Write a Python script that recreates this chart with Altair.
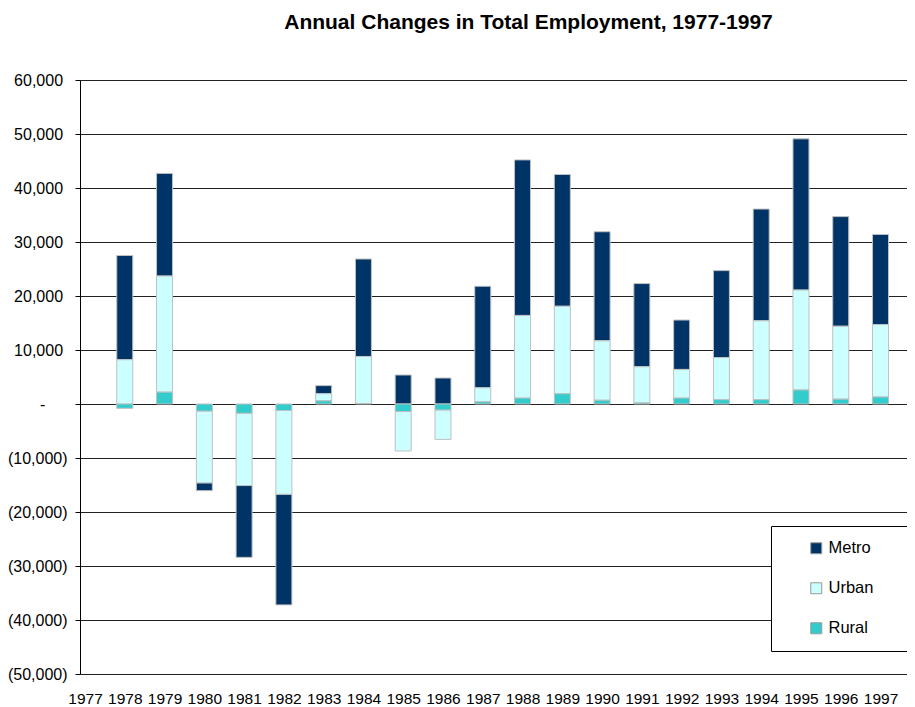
import altair as alt
import pandas as pd

years = list(range(1978, 1998))
metro = [19300, 19000, -1450, -13300, -20500, 1500, 18050, 5370, 4810, 18800,
         28800, 24400, 20200, 15400, 9150, 16100, 20700, 28000, 20300, 16700]
urban = [8200, 21500, -13300, -13400, -15500, 1300, 8700, -7300, -5450, 2600,
         15300, 16200, 11000, 6700, 5300, 7800, 14600, 18500, 13500, 13400]
rural = [-800, 2200, -1300, -1700, -1200, 600, 100, -1400, -1100, 400,
         1100, 1900, 700, 200, 1100, 800, 800, 2600, 900, 1300]
axis_years = list(range(1977, 1998))
series = ["Metro", "Urban", "Rural"]
colors = ["#003366", "#CCFFFF", "#33CCCC"]
stack_order = {"Rural": 0, "Urban": 1, "Metro": 2}
y_ticks = list(range(-50000, 60001, 10000))

rows = []
for name, vals in (("Metro", metro), ("Urban", urban), ("Rural", rural)):
    for yr, v in zip(years, vals):
        rows.append({"year": yr, "series": name, "value": v, "ord": stack_order[name]})
df = pd.DataFrame(rows)

NB = "\u00a0"
ZW = "\u200b"
ylabel = ("datum.value > 0 ? format(datum.value, ',') + '" + NB + ZW + "' : "
          "datum.value < 0 ? '(' + format(-datum.value, ',') + ')' : '-" + NB * 5 + ZW + "'")

FONT = "Liberation Sans"

chart = alt.Chart(df).mark_bar(size=16, stroke="#c0c0c0", strokeWidth=1).encode(
    x=alt.X("year:Q",
            scale=alt.Scale(domain=[1977, 1997.54], nice=False, zero=False),
            axis=alt.Axis(values=axis_years, format="d", title=None, domain=False,
                          ticks=False, grid=False, labelFontSize=15.5, labelFont=FONT,
                          labelColor="#000", labelPadding=17, labelFlush=False,
                          labelOverlap=False)),
    y=alt.Y("value:Q", stack="zero",
            scale=alt.Scale(domain=[-50000, 60000], nice=False),
            axis=alt.Axis(values=y_ticks, title=None, labelExpr=ylabel,
                          labelFontSize=16, labelFont=FONT, labelColor="#000",
                          tickSize=5, tickColor="#000", domainColor="#000",
                          gridColor="#222", gridWidth=1, labelPadding=8)),
    color=alt.Color("series:N",
                    scale=alt.Scale(domain=series, range=colors),
                    legend=alt.Legend(title=None, orient="none", legendX=691, legendY=446,
                                      padding=14, symbolOffset=23, symbolType="square",
                                      symbolSize=121, symbolStrokeColor="#999",
                                      symbolStrokeWidth=1, labelFontSize=16.5,
                                      labelFont=FONT, labelColor="#000", rowPadding=23,
                                      strokeColor="#000", fillColor="#fff",
                                      labelExpr="datum.label + '" + NB * 5 + ZW + "'")),
    order=alt.Order("ord:Q"),
).properties(
    width=827, height=594,
    title=alt.TitleParams("Annual Changes in Total Employment, 1977-1997",
                          font=FONT, fontSize=21, fontWeight="bold", color="#000",
                          anchor="middle", dx=35, baseline="alphabetic", offset=22),
    autosize=alt.AutoSizeParams(type="none"),
    padding={"left": 72, "top": 72, "right": 0, "bottom": 33},
).configure_view(stroke=None)

chart.save("out.html", embed_options={"renderer": "svg", "actions": False})
